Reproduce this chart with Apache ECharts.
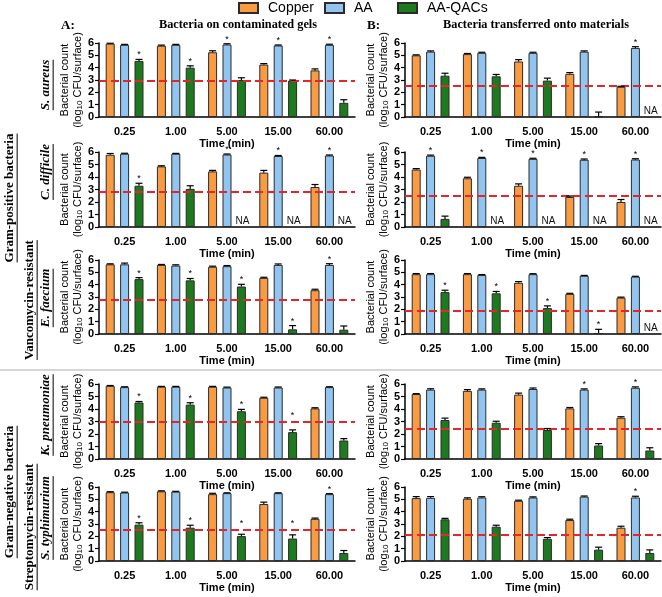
<!DOCTYPE html>
<html><head><meta charset="utf-8">
<script src="https://cdn.jsdelivr.net/npm/echarts@6/dist/echarts.min.js"></script>
<style>html,body{margin:0;padding:0;background:#fff}#c{width:662px;height:597px}</style>
</head><body><div id="c"></div>
<script>
// ---------- DATA ----------
const categories = ['0.25', '1.00', '5.00', '15.00', '60.00'];
const seriesNames = ['Copper', 'AA', 'AA-QACs'];
const seriesColors = ['#F99B43', '#92C4F0', '#1E7A1E'];

// S. aureus
const gelAureusMean = [[5.95, 5.78, 5.25, 4.25, 3.78], [5.85, 5.85, 5.88, 5.80, 5.85], [4.55, 4.00, 3.00, 2.95, 1.15]];
const gelAureusErr  = [[0.03, 0.05, 0.12, 0.08, 0.12], [0.04, 0.04, 0.06, 0.04, 0.05], [0.12, 0.15, 0.18, 0.05, 0.25]];
const gelAureusStars = [[2, 0], [2, 1], [1, 2], [1, 3], [1, 4]];
const gelAureusLimit = 2.95;
const transAureusMean = [[5.00, 5.10, 4.50, 3.50, 2.45], [5.30, 5.20, 5.20, 5.30, 5.60], [3.35, 3.30, 2.95, 0.05, null]];
const transAureusErr  = [[0.04, 0.05, 0.15, 0.10, 0.04], [0.06, 0.05, 0.05, 0.06, 0.10], [0.20, 0.15, 0.20, 0.35, 0]];
const transAureusStars = [[1, 4]];
const transAureusLimit = 2.5;

// C. difficile
const gelDifficileMean = [[5.78, 4.85, 4.45, 4.35, 3.20], [5.86, 5.86, 5.80, 5.68, 5.72], [3.30, 3.05, null, null, null]];
const gelDifficileErr  = [[0.10, 0.05, 0.08, 0.18, 0.20], [0.04, 0.03, 0.04, 0.04, 0.04], [0.20, 0.25, 0, 0, 0]];
const gelDifficileStars = [[2, 0], [1, 2], [1, 3], [1, 4]];
const gelDifficileLimit = 2.85;
const transDifficileMean = [[4.60, 3.90, 3.30, 2.40, 2.00], [5.70, 5.52, 5.45, 5.38, 5.40], [0.65, null, null, null, null]];
const transDifficileErr  = [[0.07, 0.08, 0.15, 0.08, 0.20], [0.05, 0.05, 0.05, 0.06, 0.06], [0.22, 0, 0, 0, 0]];
const transDifficileStars = [[1, 0], [1, 1], [1, 2], [1, 3], [1, 4]];
const transDifficileLimit = 2.5;

// E. faecium
const gelFaeciumMean = [[5.65, 5.60, 5.45, 4.55, 3.55], [5.65, 5.55, 5.50, 5.60, 5.60], [4.45, 4.35, 3.85, 0.38, 0.35]];
const gelFaeciumErr  = [[0.04, 0.04, 0.05, 0.05, 0.08], [0.10, 0.06, 0.05, 0.08, 0.10], [0.12, 0.15, 0.18, 0.30, 0.30]];
const gelFaeciumStars = [[2, 0], [2, 1], [2, 2], [2, 3], [1, 4]];
const gelFaeciumLimit = 2.8;
const transFaeciumMean = [[4.85, 4.85, 4.15, 3.25, 2.95], [4.85, 4.78, 4.85, 4.72, 4.65], [3.40, 3.30, 2.10, 0.08, null]];
const transFaeciumErr  = [[0.05, 0.05, 0.10, 0.05, 0.04], [0.05, 0.04, 0.04, 0.03, 0.03], [0.15, 0.15, 0.18, 0.30, 0]];
const transFaeciumStars = [[2, 0], [2, 1], [2, 2], [2, 3]];
const transFaeciumLimit = 1.85;

// K. pneumoniae
const gelPneumoniaeMean = [[5.85, 5.78, 5.78, 4.90, 4.05], [5.75, 5.78, 5.72, 5.72, 5.75], [4.52, 4.35, 3.82, 2.15, 1.48]];
const gelPneumoniaeErr  = [[0.03, 0.03, 0.03, 0.04, 0.05], [0.03, 0.03, 0.03, 0.04, 0.03], [0.08, 0.15, 0.15, 0.18, 0.15]];
const gelPneumoniaeStars = [[2, 0], [2, 1], [2, 2], [2, 3]];
const gelPneumoniaeLimit = 2.95;
const transPneumoniaeMean = [[5.20, 5.45, 5.15, 4.05, 3.30], [5.55, 5.55, 5.60, 5.55, 5.70], [3.12, 2.90, 2.32, 1.08, 0.68]];
const transPneumoniaeErr  = [[0.03, 0.10, 0.12, 0.07, 0.08], [0.07, 0.06, 0.08, 0.06, 0.07], [0.15, 0.12, 0.12, 0.15, 0.22]];
const transPneumoniaeStars = [[1, 3], [1, 4]];
const transPneumoniaeLimit = 2.4;

// S. typhimurium
const gelTyphimuriumMean = [[5.58, 5.65, 5.42, 4.62, 3.42], [5.55, 5.62, 5.50, 5.50, 5.42], [2.95, 2.70, 2.02, 1.82, 0.65]];
const gelTyphimuriumErr  = [[0.04, 0.04, 0.07, 0.15, 0.06], [0.03, 0.03, 0.03, 0.03, 0.04], [0.15, 0.20, 0.15, 0.30, 0.20]];
const gelTyphimuriumStars = [[2, 0], [2, 1], [2, 2], [2, 3], [1, 4]];
const gelTyphimuriumLimit = 2.55;
const transTyphimuriumMean = [[5.10, 5.05, 4.88, 3.32, 2.70], [5.12, 5.15, 5.15, 5.22, 5.15], [3.38, 2.78, 1.80, 0.92, 0.65]];
const transTyphimuriumErr  = [[0.12, 0.07, 0.05, 0.07, 0.12], [0.10, 0.06, 0.05, 0.05, 0.10], [0.08, 0.12, 0.10, 0.20, 0.25]];
const transTyphimuriumStars = [[1, 4]];
const transTyphimuriumLimit = 2.1;

// ---------- BUILD ----------
const FONT_SANS = 'Liberation Sans, Arial, sans-serif';
const FONT_SERIF = 'Liberation Serif, Times New Roman, serif';
const BAR_W = 9, BAR_GAP = 0.6, BAR_STEP = BAR_W * (1 + BAR_GAP);

const panels = [
  [gelAureusMean, gelAureusErr, gelAureusStars, gelAureusLimit],
  [transAureusMean, transAureusErr, transAureusStars, transAureusLimit],
  [gelDifficileMean, gelDifficileErr, gelDifficileStars, gelDifficileLimit],
  [transDifficileMean, transDifficileErr, transDifficileStars, transDifficileLimit],
  [gelFaeciumMean, gelFaeciumErr, gelFaeciumStars, gelFaeciumLimit],
  [transFaeciumMean, transFaeciumErr, transFaeciumStars, transFaeciumLimit],
  [gelPneumoniaeMean, gelPneumoniaeErr, gelPneumoniaeStars, gelPneumoniaeLimit],
  [transPneumoniaeMean, transPneumoniaeErr, transPneumoniaeStars, transPneumoniaeLimit],
  [gelTyphimuriumMean, gelTyphimuriumErr, gelTyphimuriumStars, gelTyphimuriumLimit],
  [transTyphimuriumMean, transTyphimuriumErr, transTyphimuriumStars, transTyphimuriumLimit]
];

const rowTops = [43, 152, 260, 384, 487];
const rowH = [74, 75, 74, 75, 74];
const colLeft = [99, 405];
const gridW = 256;

const grids = [], xAxes = [], yAxes = [], series = [];

function renderErr(params, api, limit) {
  const cat = api.value(0), v = api.value(1), e = api.value(2), s = api.value(3);
  const star = api.value(4), na = api.value(5);
  const base = api.coord([cat, 0]);
  const x = base[0] + (s - 1) * BAR_STEP;
  if (na) {
    return {type: 'text', style: {text: 'NA', x: x + 1, y: base[1] - 1, fill: '#111',
      font: '10px ' + FONT_SANS, align: 'center', verticalAlign: 'bottom',
      textAlign: 'center', textVerticalAlign: 'bottom'}};
  }
  const yb = api.coord([cat, v])[1];
  const yt = api.coord([cat, v + e])[1];
  const children = [
    {type: 'line', shape: {x1: x, y1: yb, x2: x, y2: yt}, style: {stroke: '#000', lineWidth: 1.2}},
    {type: 'line', shape: {x1: x - 3.5, y1: yt, x2: x + 3.5, y2: yt}, style: {stroke: '#000', lineWidth: 1.2}}
  ];
  if (star) {
    const ly = api.coord([cat, limit])[1];
    let c = yt - 5;
    if (Math.abs(c - ly) < 6) c = ly - 7;   // keep the star clear of the dashed line
    children.push({type: 'text', style: {text: '*', x: x, y: c + 5, fill: '#000',
      font: '9px ' + FONT_SANS, align: 'center', verticalAlign: 'bottom',
      textAlign: 'center', textVerticalAlign: 'bottom'}});
  }
  return {type: 'group', children: children};
}

panels.forEach((p, i) => {
  const [mean, err, stars, limit] = p;
  const row = Math.floor(i / 2), col = i % 2;
  grids.push({left: colLeft[col], top: rowTops[row], width: gridW, height: rowH[row]});
  xAxes.push({
    type: 'category', gridIndex: i, data: categories,
    axisLine: {lineStyle: {color: '#000', width: 1.5}},
    axisTick: {alignWithLabel: true, length: 4, lineStyle: {color: '#000', width: 1.2}},
    axisLabel: {fontSize: 11, fontWeight: 'bold', color: '#000', margin: 9, fontFamily: FONT_SANS},
    name: 'Time (min)', nameLocation: 'middle', nameGap: 21,
    nameTextStyle: {fontSize: 11, fontWeight: 'bold', color: '#000', fontFamily: FONT_SANS}
  });
  yAxes.push({
    type: 'value', gridIndex: i, min: 0, max: 6, interval: 1,
    axisLine: {show: true, lineStyle: {color: '#000', width: 1.5}},
    axisTick: {show: true, length: 4, lineStyle: {color: '#000', width: 1.2}},
    axisLabel: {fontSize: 11, fontWeight: 'bold', color: '#000', margin: 5, fontFamily: FONT_SANS},
    splitLine: {show: false},
    name: '{a|Bacterial count}\n{a|(log}{s|10}{a| CFU/surface)}',
    nameLocation: 'middle', nameRotate: 90, nameGap: 14,
    nameTextStyle: {color: '#000', fontFamily: FONT_SANS,
      rich: {a: {fontSize: 11, lineHeight: 13, color: '#000', fontFamily: FONT_SANS},
             s: {fontSize: 8, lineHeight: 8, verticalAlign: 'bottom', color: '#000', fontFamily: FONT_SANS}}}
  });
  for (let s = 0; s < 3; s++) {
    series.push({
      type: 'bar', name: seriesNames[s], xAxisIndex: i, yAxisIndex: i, z: 2,
      data: mean[s], barWidth: BAR_W, barGap: (BAR_GAP * 100) + '%', silent: true,
      itemStyle: {color: seriesColors[s], borderColor: '#2b2b2b', borderWidth: 1}
    });
  }
  const cdata = [];
  for (let s = 0; s < 3; s++) {
    for (let c = 0; c < categories.length; c++) {
      const m = mean[s][c];
      const hasStar = stars.some(st => st[0] === s && st[1] === c) ? 1 : 0;
      if (m === null) cdata.push([c, 0, 0, s, 0, 1]);
      else cdata.push([c, m, err[s][c], s, hasStar, 0]);
    }
  }
  series.push({
    type: 'custom', xAxisIndex: i, yAxisIndex: i, data: cdata,
    renderItem: (params, api) => renderErr(params, api, limit),
    encode: {x: 0, y: 1}, silent: true, clip: false, z: 5,
    markLine: {silent: true, z: 3, symbol: ['none', 'none'], label: {show: false},
      lineStyle: {color: '#E3262A', type: [8, 4], width: 2},
      data: [{yAxis: limit}]}
  });
});

const measureCtx = document.createElement('canvas').getContext('2d');
function textW(text, size, italic) {
  measureCtx.font = (italic ? 'italic ' : '') + 'bold ' + size + 'px ' + FONT_SERIF;
  return measureCtx.measureText(text).width;
}
function vText(text, x, y, size, italic) {
  const w = textW(text, size, italic);
  return {
    type: 'group', x: x, y: y, rotation: Math.PI / 2,
    children: [
      {type: 'text', style: {text: text, x: 0, y: 0, fill: '#000',
        font: (italic ? 'italic ' : '') + 'bold ' + size + 'px ' + FONT_SERIF,
        align: 'center', verticalAlign: 'middle', textAlign: 'center', textVerticalAlign: 'middle'}},
      {type: 'line', shape: {x1: -w / 2, y1: size * 0.55, x2: w / 2, y2: size * 0.55},
        style: {stroke: '#000', lineWidth: 1}}
    ]
  };
}

const graphics = [
  {type: 'line', shape: {x1: 0, y1: 370, x2: 662, y2: 370}, style: {stroke: '#d6d6d6', lineWidth: 2}},
  {type: 'text', style: {text: 'A:', x: 61, y: 26, fill: '#000', font: 'bold 13px ' + FONT_SERIF, verticalAlign: 'middle', textVerticalAlign: 'middle'}},
  {type: 'text', style: {text: 'Bacteria on contaminated gels', x: 238, y: 25, fill: '#000', font: 'bold 12.3px ' + FONT_SERIF, align: 'center', textAlign: 'center', verticalAlign: 'middle', textVerticalAlign: 'middle'}},
  {type: 'text', style: {text: 'B:', x: 367, y: 26, fill: '#000', font: 'bold 13px ' + FONT_SERIF, verticalAlign: 'middle', textVerticalAlign: 'middle'}},
  {type: 'text', style: {text: 'Bacteria transferred onto materials', x: 536, y: 25, fill: '#000', font: 'bold 12.3px ' + FONT_SERIF, align: 'center', textAlign: 'center', verticalAlign: 'middle', textVerticalAlign: 'middle'}},
  vText('Gram-positive bacteria', 10, 198, 13, false),
  vText('Vancomycin-resistant', 30, 300, 13, false),
  vText('S. aureus', 46, 85, 13, true),
  vText('C. difficile', 46, 172, 13, true),
  vText('E. faecium', 46, 298, 13, true),
  vText('Gram-negative bacteria', 10, 492, 13, false),
  vText('Streptomycin-resistant', 30, 527, 13, false),
  vText('K. pneumoniae', 46, 415, 13, true),
  vText('S. typhimurium', 46, 518, 13, true)
];

const legendBase = {top: 1, itemWidth: 19, itemHeight: 10, padding: 0, icon: 'rect',
  textStyle: {fontSize: 14, color: '#000', fontFamily: FONT_SANS, padding: [0, 0, 0, 5]}};

const chart = echarts.init(document.getElementById('c'), null, {renderer: 'canvas'});
chart.setOption({
  animation: false,
  backgroundColor: '#fff',
  legend: [
    Object.assign({}, legendBase, {data: ['Copper'], left: 238}),
    Object.assign({}, legendBase, {data: ['AA'], left: 324}),
    Object.assign({}, legendBase, {data: ['AA-QACs'], left: 397})
  ],
  grid: grids, xAxis: xAxes, yAxis: yAxes, series: series,
  graphic: graphics
});
</script></body></html>
